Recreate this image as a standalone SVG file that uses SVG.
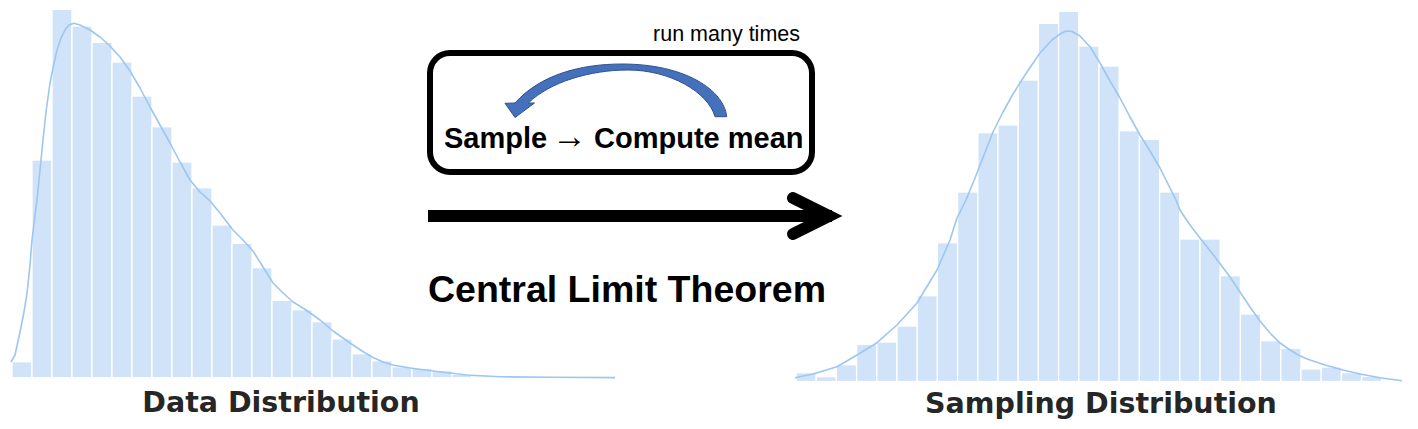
<svg xmlns="http://www.w3.org/2000/svg" width="1418" height="429" viewBox="0 0 1418 429">
<style>
.bar{fill:#d0e3f8;stroke:#ffffff;stroke-width:1.3}
.kde{fill:none;stroke:#9dc6f1;stroke-width:1.6;stroke-linejoin:round}
.lbl{font-family:"DejaVu Sans",sans-serif;font-weight:bold;font-size:28.5px;fill:#262626;text-anchor:middle}
.mid{font-family:"Liberation Sans",Arial,sans-serif;fill:#000}
</style>
<rect width="1418" height="429" fill="#ffffff"/>
<g id="data-distribution">
<rect class="bar" x="12" y="361.7" width="20" height="16.1"/>
<rect class="bar" x="32" y="160" width="20" height="217.8"/>
<rect class="bar" x="52" y="9.3" width="20" height="368.5"/>
<rect class="bar" x="72" y="26" width="20" height="351.8"/>
<rect class="bar" x="92" y="42.3" width="20" height="335.5"/>
<rect class="bar" x="112" y="62" width="20" height="315.8"/>
<rect class="bar" x="132" y="96" width="20" height="281.8"/>
<rect class="bar" x="152" y="126.7" width="20" height="251.1"/>
<rect class="bar" x="172" y="162" width="20" height="215.8"/>
<rect class="bar" x="192" y="187.7" width="20" height="190.1"/>
<rect class="bar" x="212" y="225" width="20" height="152.8"/>
<rect class="bar" x="232" y="243.3" width="20" height="134.5"/>
<rect class="bar" x="252" y="267.7" width="20" height="110.1"/>
<rect class="bar" x="272" y="300.3" width="20" height="77.5"/>
<rect class="bar" x="292" y="309.7" width="20" height="68.1"/>
<rect class="bar" x="312" y="321.7" width="20" height="56.1"/>
<rect class="bar" x="332" y="339" width="20" height="38.8"/>
<rect class="bar" x="352" y="353.7" width="20" height="24.1"/>
<rect class="bar" x="372" y="360.7" width="20" height="17.1"/>
<rect class="bar" x="392" y="366.7" width="20" height="11.1"/>
<rect class="bar" x="412" y="368.3" width="20" height="9.5"/>
<rect class="bar" x="432" y="370.7" width="20" height="7.1"/>
<rect class="bar" x="452" y="374.3" width="20" height="3.5"/>
<rect class="bar" x="472" y="376" width="20" height="1.8"/>
<rect class="bar" x="492" y="376.5" width="20" height="1.3"/>
<rect class="bar" x="512" y="377" width="20" height="0.8"/>
<rect class="bar" x="532" y="377" width="20" height="0.8"/>
<rect class="bar" x="552" y="377.3" width="20" height="0.5"/>
<rect class="bar" x="572" y="377.3" width="20" height="0.5"/>
<rect class="bar" x="592" y="377.3" width="20" height="0.5"/>
<polyline class="kde" points="11,362 15,355 20,332 24,312 27,293 30,265 32,240 35,215 37,200 40,170 43,140 46,112 50,83 54,63 57,50 61,38 65,30 69,25 74,23.3 80,25 90,30 100,37 110,46 120,57 130,71 140,88 150,107 160,125 170,143 180,162 190,180 200,192 210,201 220,213 233,230 243,240 253,251 263,267 273,283 283,293 293,302 306,310 320,320 333,331 350,343 362,351 372,357 383,362 393,365 410,368 433,371 450,373 467,375 500,376.8 550,377.2 615,377.6"/>
<text class="lbl" x="281" y="411.5">Data Distribution</text>
</g>
<g id="sampling-distribution">
<rect class="bar" x="796" y="372.7" width="20.2" height="8.8"/>
<rect class="bar" x="816.2" y="376.7" width="20.2" height="4.8"/>
<rect class="bar" x="836.4" y="364.7" width="20.2" height="16.8"/>
<rect class="bar" x="856.6" y="344.3" width="20.2" height="37.2"/>
<rect class="bar" x="876.8" y="342" width="20.2" height="39.5"/>
<rect class="bar" x="897" y="326" width="20.2" height="55.5"/>
<rect class="bar" x="917.2" y="295.7" width="20.2" height="85.8"/>
<rect class="bar" x="937.4" y="242.7" width="20.2" height="138.8"/>
<rect class="bar" x="957.6" y="192" width="20.2" height="189.5"/>
<rect class="bar" x="977.8" y="132.7" width="20.2" height="248.8"/>
<rect class="bar" x="998" y="125" width="20.2" height="256.5"/>
<rect class="bar" x="1018.2" y="80" width="20.2" height="301.5"/>
<rect class="bar" x="1038.4" y="23.3" width="20.2" height="358.2"/>
<rect class="bar" x="1058.6" y="11.3" width="20.2" height="370.2"/>
<rect class="bar" x="1078.8" y="46" width="20.2" height="335.5"/>
<rect class="bar" x="1099" y="66" width="20.2" height="315.5"/>
<rect class="bar" x="1119.2" y="130.7" width="20.2" height="250.8"/>
<rect class="bar" x="1139.4" y="139.3" width="20.2" height="242.2"/>
<rect class="bar" x="1159.6" y="192" width="20.2" height="189.5"/>
<rect class="bar" x="1179.8" y="239" width="20.2" height="142.5"/>
<rect class="bar" x="1200" y="239" width="20.2" height="142.5"/>
<rect class="bar" x="1220.2" y="275.7" width="20.2" height="105.8"/>
<rect class="bar" x="1240.4" y="314" width="20.2" height="67.5"/>
<rect class="bar" x="1260.6" y="340.7" width="20.2" height="40.8"/>
<rect class="bar" x="1280.8" y="348.3" width="20.2" height="33.2"/>
<rect class="bar" x="1301" y="369" width="20.2" height="12.5"/>
<rect class="bar" x="1321.2" y="367" width="20.2" height="14.5"/>
<rect class="bar" x="1341.4" y="372.7" width="20.2" height="8.8"/>
<rect class="bar" x="1361.6" y="376.3" width="20.2" height="5.2"/>
<rect class="bar" x="1381.8" y="380.3" width="20.2" height="1.2"/>
<polyline class="kde" points="795,377.7 813,374 837,366.7 857,355 877,342.7 897,325 917,303 937,270 950,240 957,218 966,200 975,178 984,155 993,132 1003,112 1013,94 1027,72 1040,53 1052,40 1060,34 1066,31 1072,31.5 1080,36 1090,46.7 1100,63 1110,81 1120,98 1130,117 1140,135 1150,151 1160,168 1168,184 1176,200 1180,210 1190,225 1200,238 1215,257 1230,277 1240,292 1250,307 1260,321 1270,333 1280,343 1290,350 1300,356 1310,360 1325,365 1343,370 1360,374 1380,377.7 1402,380.7"/>
<text class="lbl" x="1101" y="412.5">Sampling Distribution</text>
</g>
<g id="loop-box">
<rect x="430" y="53" width="382" height="119" rx="20" ry="20" fill="#ffffff" stroke="#000000" stroke-width="6"/>
<text class="mid" x="800" y="41" font-size="21.5" text-anchor="end">run many times</text>
<text class="mid" x="444" y="148" font-size="29" font-weight="bold"><tspan>Sample </tspan><tspan x="552" font-family="'Liberation Serif',serif" font-weight="normal" font-size="35">→</tspan><tspan x="586"> Compute mean</tspan></text>
</g>
<g id="connectors">
<path id="loop-arrow" d="M 726.7 116.7 C 724 90, 685 64, 622 64 C 580 64, 540 75, 515 103 L 505 103.3 L 515 117.5 L 534.5 103 L 528.3 103 C 550 82, 590 70, 628 70 C 670 70, 708 92, 715 116.7 Z" fill="#4570bb" stroke="#2f528f" stroke-width="1"/>
<g id="clt-arrow" fill="none" stroke="#000000" stroke-width="12">
<line x1="428" y1="216" x2="832" y2="216"/>
<polyline points="793,198 829,216 793,234" stroke-linecap="round" stroke-linejoin="miter"/>
</g>
</g>
<g id="clt-label">
<text class="mid" x="428" y="302" font-size="37.5" font-weight="bold">Central Limit Theorem</text>
</g>
</svg>
